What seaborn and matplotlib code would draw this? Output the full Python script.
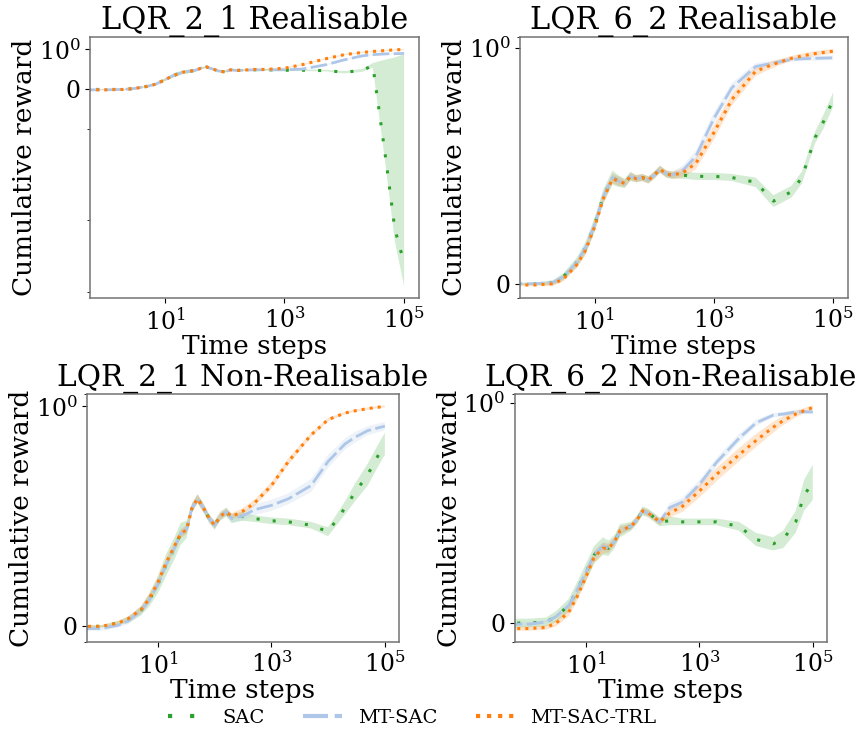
import numpy as np
import seaborn as sns
from matplotlib import pyplot as plt
from matplotlib.ticker import NullLocator

plt.rcParams['font.family'] = ['DejaVu Serif']

# time steps (0 is drawn clipped against the left edge of the log axis)
steps = [0, 1, 2, 3, 5, 7, 10, 14, 20, 25, 32, 40, 50, 63, 80, 100, 125, 160,
         200, 300, 500, 1000, 2000, 5000, 10000, 20000, 30000, 50000, 70000, 100000]

methods = ['SAC', 'MT-SAC', 'MT-SAC-TRL']
colors = ['#2ca02c', '#aec7e8', '#ff7f0e']
dash_styles = [(0, (1, 4.3)), (0, (6, 1.6)), (0, (1, 1.65))]
titles = ['LQR_2_1 Realisable', 'LQR_6_2 Realisable',
          'LQR_2_1 Non-Realisable', 'LQR_6_2 Non-Realisable']

# ---- LQR_2_1 Realisable
r21_sac = [0.0, 0.0, 0.0, 0.02, 0.075, 0.13, 0.24, 0.35, 0.43, 0.45, 0.475, 0.53, 0.56, 0.51, 0.46,
           0.44, 0.49, 0.475, 0.48, 0.49, 0.49, 0.48, 0.48, 0.47, 0.43, 0.475, 0.60, -1.8, -13.6, -40]
r21_sac_lo = [-0.01, -0.01, -0.01, 0.01, 0.06, 0.11, 0.21, 0.30, 0.38, 0.40, 0.45, 0.51, 0.54, 0.49, 0.44,
              0.42, 0.47, 0.455, 0.46, 0.47, 0.47, 0.46, 0.46, 0.45, 0.40, 0.44, 0.55, -2.0, -20, -84]
r21_sac_hi = [0.01, 0.01, 0.01, 0.03, 0.09, 0.15, 0.27, 0.40, 0.48, 0.50, 0.50, 0.55, 0.58, 0.53, 0.48,
              0.46, 0.51, 0.495, 0.50, 0.51, 0.51, 0.50, 0.50, 0.49, 0.46, 0.51, 0.66, 0.75, 0.80, 0.88]
r21_mt = [-0.01, -0.01, 0.0, 0.02, 0.075, 0.13, 0.24, 0.35, 0.43, 0.45, 0.475, 0.53, 0.56, 0.51, 0.46,
          0.44, 0.49, 0.475, 0.48, 0.49, 0.49, 0.49, 0.51, 0.62, 0.74, 0.84, 0.87, 0.89, 0.895, 0.90]
r21_mt_err = [0.01, 0.01, 0.01, 0.01, 0.015, 0.02, 0.03, 0.03, 0.03, 0.02, 0.02, 0.02, 0.02, 0.02, 0.02,
              0.02, 0.02, 0.015, 0.015, 0.015, 0.015, 0.015, 0.015, 0.015, 0.015, 0.015, 0.015, 0.015, 0.015, 0.015]
r21_trl = [-0.01, -0.01, 0.0, 0.02, 0.075, 0.13, 0.24, 0.35, 0.43, 0.45, 0.475, 0.53, 0.56, 0.51, 0.46,
           0.44, 0.49, 0.475, 0.48, 0.50, 0.50, 0.53, 0.62, 0.77, 0.87, 0.925, 0.95, 0.975, 0.99, 1.0]
r21_trl_err = [0.01, 0.01, 0.01, 0.01, 0.015, 0.02, 0.03, 0.03, 0.03, 0.02, 0.02, 0.02, 0.02, 0.02, 0.02,
               0.02, 0.02, 0.015, 0.015, 0.015, 0.015, 0.015, 0.015, 0.015, 0.015, 0.015, 0.015, 0.015, 0.015, 0.015]

# ---- LQR_6_2 Realisable
r62_sac = [0.0, 0.0, 0.005, 0.03, 0.09, 0.15, 0.25, 0.37, 0.45, 0.435, 0.425, 0.455, 0.445, 0.45, 0.44,
           0.46, 0.485, 0.465, 0.46, 0.46, 0.455, 0.455, 0.45, 0.43, 0.35, 0.39, 0.45, 0.62, 0.69, 0.78]
r62_sac_err = [0.005, 0.005, 0.01, 0.015, 0.02, 0.025, 0.03, 0.03, 0.03, 0.025, 0.02, 0.02, 0.015, 0.015, 0.015,
               0.015, 0.015, 0.015, 0.015, 0.015, 0.015, 0.015, 0.015, 0.02, 0.025, 0.025, 0.025, 0.025, 0.03, 0.03]
r62_mt = [0.0, 0.0, 0.005, 0.03, 0.09, 0.15, 0.25, 0.37, 0.45, 0.435, 0.425, 0.455, 0.445, 0.45, 0.44,
          0.46, 0.485, 0.465, 0.46, 0.48, 0.54, 0.70, 0.83, 0.92, 0.935, 0.95, 0.953, 0.955, 0.956, 0.957]
r62_mt_err = [0.005, 0.005, 0.01, 0.01, 0.015, 0.02, 0.02, 0.02, 0.02, 0.02, 0.015, 0.015, 0.015, 0.015, 0.015,
              0.015, 0.015, 0.015, 0.015, 0.02, 0.025, 0.025, 0.02, 0.015, 0.01, 0.01, 0.01, 0.01, 0.01, 0.01]
r62_trl = [-0.005, -0.005, 0.0, 0.02, 0.08, 0.14, 0.24, 0.36, 0.445, 0.435, 0.425, 0.455, 0.445, 0.45, 0.44,
           0.46, 0.485, 0.465, 0.46, 0.47, 0.51, 0.64, 0.78, 0.90, 0.93, 0.955, 0.965, 0.975, 0.98, 0.985]
r62_trl_err = [0.005, 0.005, 0.01, 0.01, 0.015, 0.02, 0.02, 0.02, 0.02, 0.02, 0.015, 0.015, 0.015, 0.015, 0.015,
               0.015, 0.015, 0.015, 0.015, 0.02, 0.025, 0.03, 0.025, 0.02, 0.015, 0.01, 0.01, 0.01, 0.01, 0.01]

# ---- LQR_2_1 Non-Realisable
n21_sac = [0.0, 0.0, 0.015, 0.03, 0.07, 0.12, 0.19, 0.28, 0.36, 0.42, 0.44, 0.54, 0.58, 0.54, 0.49,
           0.46, 0.50, 0.52, 0.49, 0.50, 0.49, 0.48, 0.475, 0.46, 0.43, 0.54, 0.61, 0.69, 0.76, 0.83]
n21_sac_err = [0.005, 0.005, 0.01, 0.015, 0.02, 0.03, 0.04, 0.05, 0.05, 0.05, 0.04, 0.02, 0.02, 0.02, 0.02,
               0.02, 0.02, 0.02, 0.02, 0.02, 0.015, 0.015, 0.015, 0.015, 0.02, 0.03, 0.04, 0.05, 0.05, 0.05]
n21_mt = [-0.01, -0.01, 0.005, 0.025, 0.07, 0.12, 0.19, 0.28, 0.36, 0.42, 0.44, 0.54, 0.58, 0.54, 0.49,
          0.46, 0.50, 0.52, 0.49, 0.50, 0.53, 0.55, 0.58, 0.64, 0.75, 0.83, 0.86, 0.89, 0.90, 0.91]
n21_mt_err = [0.01, 0.01, 0.01, 0.015, 0.02, 0.02, 0.02, 0.02, 0.02, 0.02, 0.02, 0.02, 0.02, 0.02, 0.02,
              0.02, 0.02, 0.02, 0.02, 0.02, 0.025, 0.025, 0.025, 0.03, 0.03, 0.025, 0.025, 0.02, 0.02, 0.02]
n21_trl = [0.0, 0.0, 0.015, 0.035, 0.075, 0.125, 0.20, 0.29, 0.37, 0.42, 0.44, 0.54, 0.58, 0.54, 0.49,
           0.46, 0.50, 0.52, 0.50, 0.52, 0.56, 0.64, 0.75, 0.87, 0.94, 0.97, 0.98, 0.99, 0.995, 1.0]
n21_trl_err = [0.005, 0.005, 0.01, 0.01, 0.015, 0.02, 0.02, 0.02, 0.02, 0.02, 0.02, 0.02, 0.02, 0.02, 0.015,
               0.015, 0.015, 0.015, 0.015, 0.015, 0.015, 0.015, 0.015, 0.01, 0.008, 0.005, 0.005, 0.005, 0.005, 0.005]

# ---- LQR_6_2 Non-Realisable
n62_sac = [0.0, 0.0, 0.005, 0.03, 0.08, 0.15, 0.23, 0.31, 0.35, 0.34, 0.37, 0.42, 0.43, 0.44, 0.47,
           0.51, 0.50, 0.48, 0.46, 0.465, 0.46, 0.46, 0.46, 0.44, 0.38, 0.36, 0.38, 0.46, 0.58, 0.64]
n62_sac_err = [0.02, 0.02, 0.02, 0.025, 0.03, 0.035, 0.04, 0.04, 0.04, 0.035, 0.03, 0.03, 0.025, 0.02, 0.02,
               0.02, 0.02, 0.02, 0.02, 0.02, 0.015, 0.015, 0.015, 0.02, 0.03, 0.03, 0.04, 0.05, 0.07, 0.08]
n62_mt = [-0.005, -0.005, 0.005, 0.03, 0.08, 0.15, 0.23, 0.31, 0.35, 0.34, 0.37, 0.42, 0.43, 0.44, 0.47,
          0.51, 0.50, 0.48, 0.46, 0.525, 0.55, 0.63, 0.73, 0.84, 0.91, 0.945, 0.95, 0.96, 0.96, 0.96]
n62_mt_err = [0.01, 0.01, 0.01, 0.01, 0.015, 0.02, 0.02, 0.02, 0.02, 0.02, 0.02, 0.02, 0.015, 0.015, 0.015,
              0.015, 0.015, 0.015, 0.015, 0.02, 0.02, 0.02, 0.02, 0.02, 0.015, 0.01, 0.01, 0.01, 0.01, 0.01]
n62_trl = [-0.025, -0.025, -0.02, 0.0, 0.05, 0.12, 0.21, 0.30, 0.34, 0.34, 0.37, 0.42, 0.43, 0.44, 0.47,
           0.51, 0.50, 0.48, 0.46, 0.50, 0.53, 0.60, 0.675, 0.765, 0.83, 0.89, 0.92, 0.95, 0.965, 0.98]
n62_trl_err = [0.01, 0.01, 0.01, 0.015, 0.02, 0.02, 0.025, 0.025, 0.025, 0.02, 0.02, 0.02, 0.015, 0.015, 0.015,
               0.015, 0.015, 0.015, 0.015, 0.02, 0.025, 0.03, 0.03, 0.03, 0.03, 0.025, 0.02, 0.015, 0.012, 0.01]


def bounds(mean, err):
    m = np.array(mean)
    e = np.array(err)
    return m - e, m + e


panels = [
    [(r21_sac, r21_sac_lo, r21_sac_hi), (r21_mt,) + bounds(r21_mt, r21_mt_err),
     (r21_trl,) + bounds(r21_trl, r21_trl_err)],
    [(r62_sac,) + bounds(r62_sac, r62_sac_err), (r62_mt,) + bounds(r62_mt, r62_mt_err),
     (r62_trl,) + bounds(r62_trl, r62_trl_err)],
    [(n21_sac,) + bounds(n21_sac, n21_sac_err), (n21_mt,) + bounds(n21_mt, n21_mt_err),
     (n21_trl,) + bounds(n21_trl, n21_trl_err)],
    [(n62_sac,) + bounds(n62_sac, n62_sac_err), (n62_mt,) + bounds(n62_mt, n62_mt_err),
     (n62_trl,) + bounds(n62_trl, n62_trl_err)],
]

fig, axes = plt.subplots(2, 2, figsize=(8.6, 7.34), dpi=100)
positions = [[0.1047, 0.594, 0.3826, 0.3556], [0.6047, 0.594, 0.3814, 0.3556],
             [0.1012, 0.1253, 0.3628, 0.3379], [0.5988, 0.1253, 0.3628, 0.3379]]
title_sizes = [22, 22, 21.3, 21.3]

for ax, pos, title, tsize, series in zip(axes.flat, positions, titles, title_sizes, panels):
    for (mean, lo, hi), name, col, ls in zip(series, methods, colors, dash_styles):
        ax.fill_between(steps, lo, hi, color=col, alpha=0.2, linewidth=0)
        sns.lineplot(x=steps, y=mean, ax=ax, color=col, linestyle=ls,
                     linewidth=2.2 if name != 'MT-SAC' else 2.0,
                     label=name, errorbar=None, legend=False, sort=False)
    ax.set_xscale('log')
    ax.set_yscale('symlog')
    ax.autoscale_view()
    ax.xaxis.set_minor_locator(NullLocator())
    ax.set_yticks([0, 1])
    ax.tick_params(labelsize=17)
    for sp in ax.spines.values():
        sp.set_color('0.45')
        sp.set_linewidth(1.1)
    ax.set_xlabel('Time steps', fontsize=19, labelpad=0)
    ax.set_ylabel('Cumulative reward', fontsize=19, labelpad=1)
    ax.set_title(title, fontsize=tsize)
    ax.set_position(pos)

handles, labels = axes[0, 0].get_legend_handles_labels()
leg = fig.legend(handles, labels, loc='center', bbox_to_anchor=(0.479, 0.022), ncol=3,
                 frameon=False, fontsize=14)
for line in leg.get_lines():
    line.set_linewidth(3.0)

fig.savefig('out.png', dpi=100)
